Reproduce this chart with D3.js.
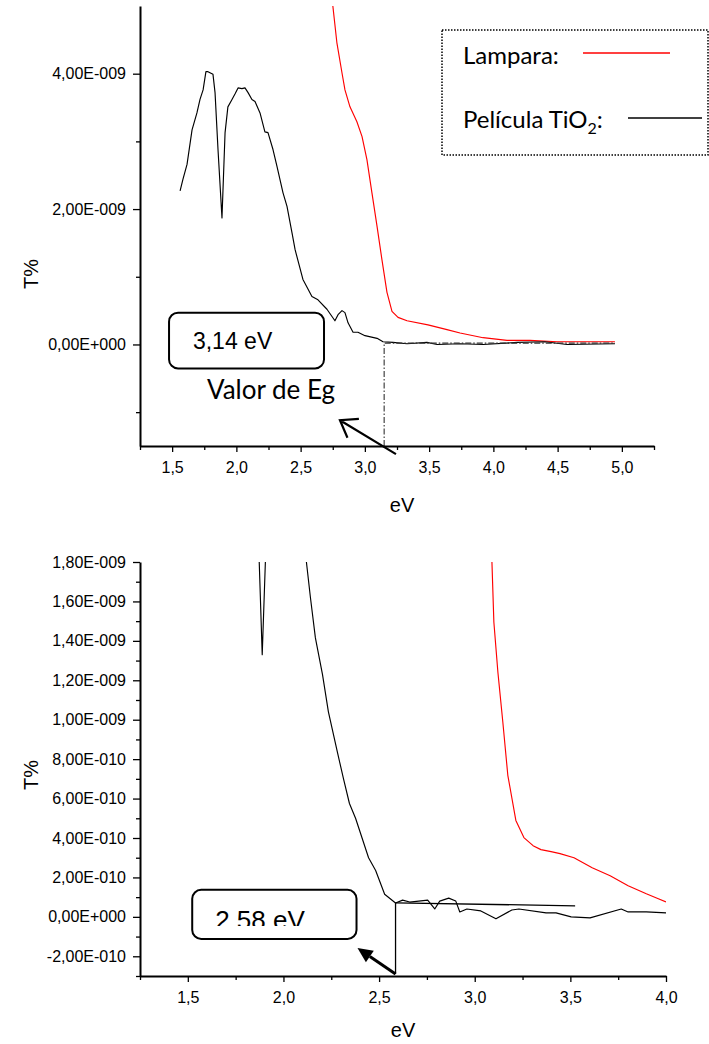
<!DOCTYPE html>
<html>
<head>
<meta charset="utf-8">
<script src="https://cdn.jsdelivr.net/npm/d3@7"></script>
<style>
  body { margin: 0; background: #fff; }
  svg text { font-family: Arial, "Liberation Sans", sans-serif; fill: #000; }
  svg text.cal { font-family: Lato, "Open Sans", sans-serif; }
</style>
</head>
<body>
<svg id="chart" width="709" height="1044"></svg>
<script>
// ---- top panel data (T% in units of 1e-9) ----
var lampEvTop = [2.745, 2.782, 2.822, 2.845, 2.884, 2.938, 2.978, 3.016, 3.055, 3.095, 3.133, 3.172, 3.211,
  3.258, 3.328, 3.491, 3.639, 3.741, 3.920, 4.106, 4.285, 4.495, 4.946];
var lampTTop = [5.10, 4.46, 4.01, 3.76, 3.51, 3.29, 3.07, 2.73, 2.24, 1.74, 1.25, 0.77, 0.49,
  0.40, 0.35, 0.29, 0.22, 0.17, 0.10, 0.06, 0.06, 0.04, 0.04];

var filmEvTop = [1.562, 1.584, 1.616, 1.655, 1.693, 1.717, 1.741, 1.763, 1.779, 1.818, 1.834, 1.857, 1.888,
  1.912, 1.934, 1.966, 1.989, 2.013, 2.043, 2.067, 2.091, 2.121, 2.145, 2.184, 2.222, 2.246, 2.285, 2.316,
  2.363, 2.394, 2.433, 2.457, 2.518, 2.588, 2.635, 2.705, 2.767, 2.791, 2.822, 2.845, 2.869, 2.908, 2.946,
  3.001, 3.095, 3.141, 3.219, 3.328, 3.483, 3.562, 3.741, 3.920, 4.184, 4.401, 4.573, 4.946];
var filmTTop = [2.27, 2.44, 2.66, 3.17, 3.42, 3.62, 3.76, 4.03, 4.03, 3.99, 3.72, 2.88, 1.87,
  3.13, 3.51, 3.62, 3.70, 3.79, 3.78, 3.79, 3.72, 3.62, 3.59, 3.42, 3.14, 3.13, 2.88, 2.63,
  2.24, 2.04, 1.65, 1.40, 0.96, 0.71, 0.66, 0.52, 0.35, 0.44, 0.50, 0.47, 0.32, 0.18, 0.18,
  0.13, 0.09, 0.04, 0.03, 0.01, 0.03, 0.00, 0.01, 0.00, 0.03, 0.04, 0.00, 0.01];

var xTicksTop = [1.5, 2.0, 2.5, 3.0, 3.5, 4.0, 4.5, 5.0];
var xMinorTop = [1.25, 1.75, 2.25, 2.75, 3.25, 3.75, 4.25, 4.75, 5.25];
var yTicksTop = [0, 2, 4];
var yMinorTop = [-1, 1, 3];
var egTop = 3.15;      // tangent crossing, label 3,14 eV
var baseTop = 0.02;

// ---- bottom panel data (T% in units of 1e-10) ----
var lampEvBot = [3.085, 3.100, 3.121, 3.147, 3.173, 3.215, 3.257, 3.305, 3.346, 3.399, 3.446, 3.519,
  3.614, 3.708, 3.802, 3.897, 3.960, 4.0];
var lampTBot = [19.5, 14.96, 12.42, 9.87, 7.18, 4.89, 4.02, 3.61, 3.41, 3.31, 3.21, 3.00,
  2.49, 2.09, 1.58, 1.17, 0.92, 0.76];

var filmEvBot = [1.85, 1.889, 1.93, 2.10, 2.120, 2.141, 2.167, 2.204, 2.235, 2.282, 2.314, 2.345, 2.377,
  2.445, 2.482, 2.529, 2.586, 2.623, 2.660, 2.754, 2.791, 2.817, 2.864, 2.901, 2.922, 2.959, 3.032,
  3.111, 3.194, 3.231, 3.373, 3.425, 3.504, 3.603, 3.766, 3.802, 3.897, 4.0];
var filmTBot = [25, 13.3, 25, 37, 18.0, 16.2, 14.15, 12.3, 10.4, 8.35, 7.0, 5.75, 5.0,
  3.0, 2.35, 1.15, 0.7, 0.85, 0.75, 0.85, 0.4, 0.8, 0.95, 0.8, 0.25, 0.4, 0.3,
  -0.1, 0.35, 0.4, 0.2, 0.2, 0.0, -0.05, 0.4, 0.25, 0.25, 0.2];

var xTicksBot = [1.5, 2.0, 2.5, 3.0, 3.5, 4.0];
var xMinorBot = [1.25, 1.75, 2.25, 2.75, 3.25, 3.75];
var yTicksBot = [-2, 0, 2, 4, 6, 8, 10, 12, 14, 16, 18];
var yMinorBot = [-3, -1, 1, 3, 5, 7, 9, 11, 13, 15, 17];
var egBot = 2.586;
var tangentEv = [2.586, 3.525];
var tangentT = [0.71, 0.56];

var svg = d3.select("#chart");

// "4,00E-009" style labels
var fmtE = function(v) {
  if (Math.abs(v) < 1e-20) return "0,00E+000";
  var e = Math.floor(Math.log10(Math.abs(v)) + 1e-9);
  var m = (v / Math.pow(10, e)).toFixed(2).replace(".", ",");
  var s = (e < 0 ? "-" : "+") + String(Math.abs(e)).padStart(3, "0");
  return m + "E" + s;
};
var fmtX = function(v) { return d3.format(".1f")(v).replace(".", ","); };

var drawAxes = function(g, x, y, xt, xm, yt, ym, unit) {
  var h = y.range()[0];
  var left = x.range()[0];
  // minor ticks first
  g.append("g").attr("transform", "translate(0," + h + ")")
    .call(d3.axisBottom(x).tickValues(xm).tickSize(4).tickFormat(""))
    .call(function(a) { a.select(".domain").remove(); });
  g.append("g").attr("transform", "translate(" + left + ",0)")
    .call(d3.axisLeft(y).tickValues(ym).tickSize(4).tickFormat(""))
    .call(function(a) { a.select(".domain").remove(); });

  var xa = g.append("g").attr("transform", "translate(0," + h + ")")
    .call(d3.axisBottom(x).tickValues(xt).tickSize(6).tickSizeOuter(0).tickPadding(10).tickFormat(fmtX));
  var ya = g.append("g").attr("transform", "translate(" + left + ",0)")
    .call(d3.axisLeft(y).tickValues(yt).tickSize(7).tickSizeOuter(0).tickPadding(7)
      .tickFormat(function(d) { return fmtE(d * unit); }));
  [xa, ya].forEach(function(a) {
    a.attr("font-family", null).attr("font-size", null);
    a.selectAll("text").style("font-size", "16px");
    a.select(".domain").attr("stroke-width", 2);
  });
  g.selectAll(".tick line").attr("stroke-width", 1.3);
};

var clipRect = function(id, x, y) {
  svg.append("clipPath").attr("id", id).append("rect")
    .attr("x", x.range()[0]).attr("y", y.range()[1])
    .attr("width", x.range()[1] - x.range()[0])
    .attr("height", y.range()[0] - y.range()[1]);
};

var drawLine = function(g, x, y, xs, ys, color, clip) {
  var pts = xs.map(function(d, i) { return [d, ys[i]]; });
  g.append("path").datum(pts)
    .attr("clip-path", "url(#" + clip + ")")
    .attr("fill", "none").attr("stroke", color).attr("stroke-width", 1.15)
    .attr("stroke-linejoin", "round")
    .attr("d", d3.line().x(function(d) { return x(d[0]); }).y(function(d) { return y(d[1]); }));
};

// ================= TOP PANEL =================
var xT = d3.scaleLinear().domain([1.25, 5.25]).range([140, 654]);
var yT = d3.scaleLinear().domain([-1.5, 5]).range([446, 6]);
clipRect("clipTop", xT, yT);
var gT = svg.append("g");

drawLine(gT, xT, yT, lampEvTop, lampTTop, "#ff0000", "clipTop");
drawLine(gT, xT, yT, filmEvTop, filmTTop, "#000", "clipTop");

// dash-dot guide for Eg
gT.append("path")
  .attr("d", "M" + xT(egTop) + "," + yT(-1.5) + "V" + yT(baseTop) + "H" + xT(4.946))
  .attr("fill", "none").attr("stroke", "#333").attr("stroke-width", 1.1)
  .attr("stroke-dasharray", "6,2,1.5,2");

drawAxes(gT, xT, yT, xTicksTop, xMinorTop, yTicksTop, yMinorTop, 1e-9);

// annotation box
gT.append("rect")
  .attr("x", xT(1.476)).attr("y", yT(0.47))
  .attr("width", xT(2.682) - xT(1.476)).attr("height", yT(-0.354) - yT(0.47))
  .attr("rx", 9).attr("fill", "#fff").attr("stroke", "#000").attr("stroke-width", 2);
gT.append("text").attr("x", xT(1.662)).attr("y", yT(-0.06))
  .style("font-size", "23px").text("3,14 eV");
gT.append("text").attr("class", "cal").attr("x", xT(1.771)).attr("y", yT(-0.81))
  .style("font-size", "26px").text("Valor de Eg");

// open arrow
var tailT = [xT(3.242), yT(-1.62)], tipT = [xT(2.806), yT(-1.12)];
var angT = Math.atan2(tailT[1] - tipT[1], tailT[0] - tipT[0]);
gT.append("path")
  .attr("d", "M" + tailT + "L" + tipT +
    "M" + [tipT[0] + 19 * Math.cos(angT - 0.62), tipT[1] + 19 * Math.sin(angT - 0.62)] + "L" + tipT +
    "L" + [tipT[0] + 19 * Math.cos(angT + 0.62), tipT[1] + 19 * Math.sin(angT + 0.62)])
  .attr("fill", "none").attr("stroke", "#000").attr("stroke-width", 2.2);

gT.append("text").attr("transform", "translate(38,274) rotate(-90)")
  .attr("text-anchor", "middle").style("font-size", "20px").text("T%");
gT.append("text").attr("x", 402).attr("y", 512)
  .attr("text-anchor", "middle").style("font-size", "20px").text("eV");

// legend
var lg = svg.append("g");
lg.append("rect").attr("x", 442).attr("y", 30).attr("width", 266).attr("height", 125)
  .attr("fill", "none").attr("stroke", "#000").attr("stroke-width", 1.5).attr("stroke-dasharray", "1.5,1.5");
lg.append("text").attr("class", "cal").attr("x", 463).attr("y", 64).style("font-size", "24px").text("Lampara:");
lg.append("line").attr("x1", 583).attr("x2", 670).attr("y1", 53).attr("y2", 53)
  .attr("stroke", "#ff0000").attr("stroke-width", 1.5);
var lt = lg.append("text").attr("class", "cal").attr("x", 463).attr("y", 128).style("font-size", "24px");
lt.append("tspan").text("Película TiO");
lt.append("tspan").attr("dy", 6).style("font-size", "16px").text("2");
lt.append("tspan").attr("dy", -6).text(":");
lg.append("line").attr("x1", 628).attr("x2", 702).attr("y1", 118).attr("y2", 118)
  .attr("stroke", "#000").attr("stroke-width", 1.5);

// ================= BOTTOM PANEL =================
var xB = d3.scaleLinear().domain([1.25, 4.0]).range([140, 666]);
var yB = d3.scaleLinear().domain([-3, 18]).range([976, 562]);
clipRect("clipBot", xB, yB);
var gB = svg.append("g");

drawLine(gB, xB, yB, lampEvBot, lampTBot, "#ff0000", "clipBot");
drawLine(gB, xB, yB, filmEvBot, filmTBot, "#000", "clipBot");

// tangent + drop line
gB.append("line").attr("x1", xB(tangentEv[0])).attr("x2", xB(tangentEv[1]))
  .attr("y1", yB(tangentT[0])).attr("y2", yB(tangentT[1]))
  .attr("stroke", "#000").attr("stroke-width", 1.3);
gB.append("line").attr("x1", xB(egBot)).attr("x2", xB(egBot))
  .attr("y1", yB(tangentT[0])).attr("y2", yB(-2.9))
  .attr("stroke", "#000").attr("stroke-width", 1.3);

drawAxes(gB, xB, yB, xTicksBot, xMinorBot, yTicksBot, yMinorBot, 1e-10);

// annotation box with clipped text
svg.append("clipPath").attr("id", "clipLabel").append("rect")
  .attr("x", xB(1.523)).attr("y", yB(1.37))
  .attr("width", xB(2.382) - xB(1.523)).attr("height", yB(-0.46) - yB(1.37));
gB.append("rect")
  .attr("x", xB(1.523)).attr("y", yB(1.37))
  .attr("width", xB(2.382) - xB(1.523)).attr("height", yB(-1.12) - yB(1.37))
  .attr("rx", 9).attr("fill", "#fff").attr("stroke", "#000").attr("stroke-width", 2);
gB.append("text").attr("clip-path", "url(#clipLabel)")
  .attr("x", xB(1.643)).attr("y", yB(-0.61))
  .style("font-size", "26px").text("2,58 eV");

// filled arrow
var tailB = [xB(2.586), yB(-2.9)], tipB = [xB(2.387), yB(-1.58)];
var angB = Math.atan2(tailB[1] - tipB[1], tailB[0] - tipB[0]);
var baseB = [tipB[0] + 15 * Math.cos(angB), tipB[1] + 15 * Math.sin(angB)];
gB.append("line").attr("x1", tailB[0]).attr("y1", tailB[1]).attr("x2", baseB[0]).attr("y2", baseB[1])
  .attr("stroke", "#000").attr("stroke-width", 3);
gB.append("path")
  .attr("d", "M" + tipB +
    "L" + [baseB[0] + 7 * Math.sin(angB), baseB[1] - 7 * Math.cos(angB)] +
    "L" + [baseB[0] - 7 * Math.sin(angB), baseB[1] + 7 * Math.cos(angB)] + "Z")
  .attr("fill", "#000");

gB.append("text").attr("transform", "translate(38,775) rotate(-90)")
  .attr("text-anchor", "middle").style("font-size", "20px").text("T%");
gB.append("text").attr("x", 403).attr("y", 1037)
  .attr("text-anchor", "middle").style("font-size", "20px").text("eV");
</script>
</body>
</html>
